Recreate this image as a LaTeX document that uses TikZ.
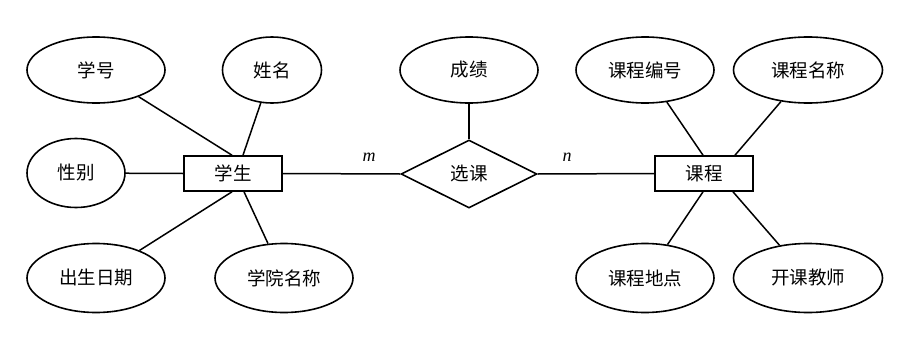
\documentclass[tikz,border=0pt]{standalone}
\usepackage{fontspec}
\newfontfamily\cjk{Noto Sans CJK SC}
\setmainfont{Liberation Serif}
\usetikzlibrary{shapes.geometric}
\begin{document}
\begin{tikzpicture}[x=1pt,y=-1pt,
  attr/.style={ellipse,draw,line width=1.6pt,inner sep=0pt,minimum height=66pt,font=\cjk\fontsize{18.5}{20}\selectfont},
  entity/.style={rectangle,draw,line width=1.6pt,inner sep=0pt,minimum width=98pt,minimum height=35pt,font=\cjk\fontsize{18.5}{20}\selectfont},
  rel/.style={diamond,draw,line width=1.6pt,inner sep=0pt,minimum width=136pt,minimum height=68pt,font=\cjk\fontsize{18.5}{20}\selectfont},
  link/.style={line width=1.5pt},
  card/.style={font=\itshape\fontsize{18}{18}\selectfont}]
\useasboundingbox (0,0) rectangle (902,348);
% entities and relationship
\node[entity] (s) at (233,173.5) {学生};
\node[entity] (c) at (704,173.5) {课程};
\node[rel] (r) at (469,174) {选课};
% attributes
\node[attr,minimum width=138pt] (xh) at (96,70) {学号};
\node[attr,minimum width=99pt] (xm) at (272,70) {姓名};
\node[attr,minimum width=98pt,minimum height=69pt] (xb) at (76,173) {性别};
\node[attr,minimum width=138pt,minimum height=69pt] (cs) at (96,278) {出生日期};
\node[attr,minimum width=138pt,minimum height=69pt] (xy) at (284,278) {学院名称};
\node[attr,minimum width=138pt] (cj) at (469,70) {成绩};
\node[attr,minimum width=138pt] (kb) at (645,70) {课程编号};
\node[attr,minimum width=149pt] (km) at (808,70) {课程名称};
\node[attr,minimum width=138pt,minimum height=69pt] (kd) at (645,278) {课程地点};
\node[attr,minimum width=149pt,minimum height=69pt] (kj) at (808,278) {开课教师};
% connection points
\coordinate (sn1) at ([xshift=-1pt]s.north);
\coordinate (sn2) at ([xshift=10pt]s.north);
\coordinate (ss1) at ([xshift=-1pt]s.south);
\coordinate (ss2) at ([xshift=11pt]s.south);
\coordinate (cn1) at ([xshift=-1pt]c.north);
\coordinate (cn2) at ([xshift=31pt]c.north);
\coordinate (cs1) at ([xshift=-1pt]c.south);
\coordinate (cs2) at ([xshift=29pt]c.south);
% connectors
\draw[link] (xh) -- (sn1);
\draw[link] (xm) -- (sn2);
\draw[link] (cs) -- (ss1);
\draw[link] (xy) -- (ss2);
\draw[link] (xb) -- (s.west);
\draw[link] (s.east) -- (r.west);
\draw[link] (r.east) -- (c.west);
\draw[link] (cj) -- (r.north);
\draw[link] (kb) -- (cn1);
\draw[link] (km) -- (cn2);
\draw[link] (kd) -- (cs1);
\draw[link] (kj) -- (cs2);
% cardinalities
\node[card] (m) at (369,157) {m};
\node[card] (n) at (567,157) {n};
\end{tikzpicture}
\end{document}
